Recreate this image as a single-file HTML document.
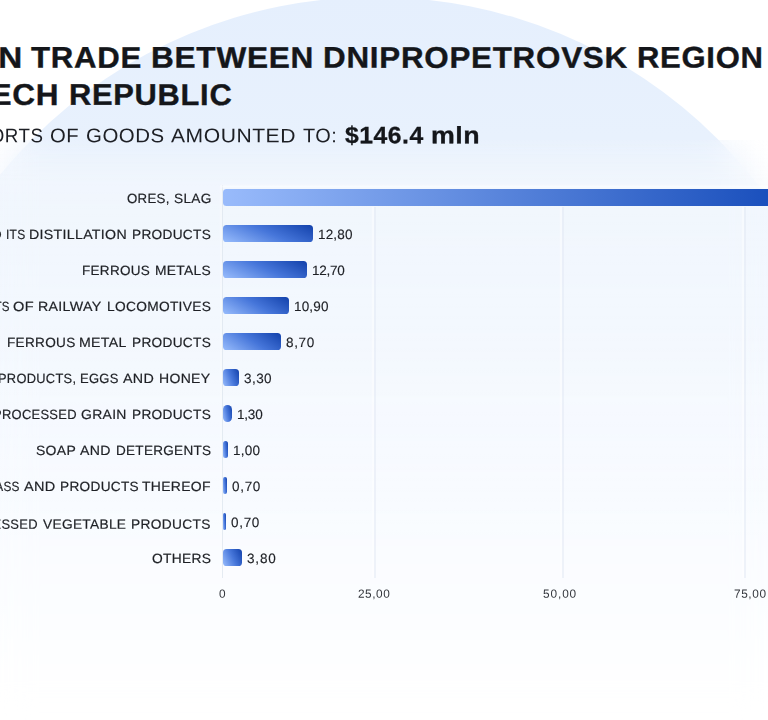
<!DOCTYPE html>
<html lang="en">
<head>
<meta charset="utf-8">
<title>Foreign trade between Dnipropetrovsk region and the Czech Republic</title>
<style>
*{margin:0;padding:0;box-sizing:border-box}
html,body{width:768px;height:720px;overflow:hidden;background:#fff}
body{font-family:"Liberation Sans",sans-serif;color:#15171c;position:relative}
#stage{position:absolute;left:0;top:0;width:768px;height:720px;overflow:hidden;background:#fff}
#circle{position:absolute;left:-108.7px;top:-2.7px;width:967.4px;height:967.4px;border-radius:50%;
  background:linear-gradient(180deg,#e5effd 0px,#e8f1fd 140px,#eef5fe 300px,#f5f9ff 450px,#fbfdff 600px,#ffffff 700px)}
#card{position:absolute;left:-200px;top:140px;width:1168px;height:700px;background:linear-gradient(180deg,rgba(255,255,255,.05) 0px,rgba(255,255,255,.34) 42px,rgba(255,255,255,.30) 120px,rgba(255,255,255,.2) 400px);
  -webkit-backdrop-filter:blur(16px);backdrop-filter:blur(16px)}
.t{position:absolute;white-space:nowrap;line-height:1;transform-origin:0 50%}
.h1{font-weight:700;color:#14161a;-webkit-text-stroke:.35px #14161a}
.sub{color:#1d1f24}
.amt{font-weight:700;color:#14161a;-webkit-text-stroke:.3px #14161a}
.lab{color:#1e2025;-webkit-text-stroke:.2px #1e2025}
.val{color:#1e2025;-webkit-text-stroke:.15px #1e2025}
.ax{color:#33363c}
.bar{position:absolute;height:17px;border-radius:3.5px}
.grid{position:absolute;width:1.5px;background:rgba(226,232,243,.5);top:207px;height:370.5px;box-shadow:-2px 0 1.5px rgba(255,255,255,.55)}
.hline{position:absolute;left:222px;width:560px;top:185.5px;height:1px;background:rgba(255,255,255,.5);box-shadow:0 0 2.5px 1px rgba(255,255,255,.5)}
.axis{position:absolute;width:1px;background:rgba(222,229,238,.75);left:221.8px;top:184.5px;height:393px;box-shadow:-1.5px 0 1.5px rgba(255,255,255,.75)}
</style>
</head>
<body>
<div id="stage">
  <div id="circle"></div>
  <div id="card"></div>

  <div class="axis"></div>
  <div class="hline"></div>
  <div class="grid" style="left:374.3px"></div>
  <div class="grid" style="left:562.2px"></div>
  <div class="grid" style="left:744.3px"></div>
  <div class="bar" style="left:222.8px;top:189.3px;height:17.1px;width:620px;background:linear-gradient(90deg,#99bbfb 0px,#174dbb 560px)"></div>
  <div class="bar" style="left:222.8px;top:225.2px;width:89.95px;height:17.3px;border-radius:3.6px;background:linear-gradient(24.2deg,#98bcfc 0%,#4676da 52%,#1241ab 100%)"></div>
  <div class="bar" style="left:222.8px;top:261.2px;width:83.95px;height:17.3px;border-radius:3.6px;background:linear-gradient(25.7deg,#98bcfc 0%,#4676da 52%,#1241ab 100%)"></div>
  <div class="bar" style="left:222.8px;top:297.2px;width:66.2px;height:17.3px;border-radius:3.6px;background:linear-gradient(31.4deg,#98bcfc 0%,#4676da 52%,#1241ab 100%)"></div>
  <div class="bar" style="left:222.8px;top:333.2px;width:58.2px;height:17.3px;border-radius:3.6px;background:linear-gradient(34.7deg,#98bcfc 0%,#4676da 52%,#1241ab 100%)"></div>
  <div class="bar" style="left:222.8px;top:369.2px;width:16.2px;height:17.3px;border-radius:3.6px;background:linear-gradient(68.1deg,#98bcfc 0%,#4676da 52%,#1241ab 100%)"></div>
  <div class="bar" style="left:222.8px;top:405.2px;width:9.45px;height:17.3px;border-radius:4.7px;background:linear-gradient(76.8deg,#98bcfc 0%,#4676da 52%,#1241ab 100%)"></div>
  <div class="bar" style="left:222.8px;top:441.2px;width:5.2px;height:17.3px;border-radius:2.6px;background:linear-gradient(82.7deg,#98bcfc 0%,#4676da 52%,#1241ab 100%)"></div>
  <div class="bar" style="left:222.8px;top:477.2px;width:3.95px;height:17.3px;border-radius:1.97px;background:linear-gradient(84.4deg,#98bcfc 0%,#4676da 52%,#1241ab 100%)"></div>
  <div class="bar" style="left:222.8px;top:513.2px;width:3.2px;height:17.3px;border-radius:1.6px;background:linear-gradient(85.5deg,#98bcfc 0%,#4676da 52%,#1241ab 100%)"></div>
  <div class="bar" style="left:222.8px;top:549.2px;width:18.95px;height:17.3px;border-radius:3.6px;background:linear-gradient(64.9deg,#98bcfc 0%,#4676da 52%,#1241ab 100%)"></div>
  <div class="t h1" style="left:-134.23px;top:42px;font-size:29.71px;letter-spacing:0.7px;transform:rotate(.03deg) translateY(0.6px) scaleX(1.1200)">FOREIGN</div>
  <div class="t h1" style="left:30.89px;top:42px;font-size:29.71px;letter-spacing:0.7px;transform:rotate(.03deg) translateY(0.6px) scaleX(1.0488)">TRADE</div>
  <div class="t h1" style="left:151.3px;top:42px;font-size:29.71px;letter-spacing:0.7px;transform:rotate(.03deg) translateY(0.6px) scaleX(1.0636)">BETWEEN</div>
  <div class="t h1" style="left:323.37px;top:42px;font-size:29.71px;letter-spacing:0.7px;transform:rotate(.03deg) translateY(0.6px) scaleX(1.0559)">DNIPROPETROVSK</div>
  <div class="t h1" style="left:637.14px;top:42px;font-size:29.71px;letter-spacing:0.7px;transform:rotate(.03deg) translateY(0.6px) scaleX(1.0438)">REGION</div>
  <div class="t h1" style="left:-168.86px;top:79px;font-size:29.78px;letter-spacing:0.7px;transform:rotate(.03deg) translateY(0.84px) scaleX(1.0600)">AND</div>
  <div class="t h1" style="left:-103.46px;top:79px;font-size:29.78px;letter-spacing:0.7px;transform:rotate(.03deg) translateY(0.84px) scaleX(1.0600)">THE</div>
  <div class="t h1" style="left:-53.34px;top:79px;font-size:29.78px;letter-spacing:0.7px;transform:rotate(.03deg) translateY(0.84px) scaleX(1.0600)">CZECH</div>
  <div class="t h1" style="left:68.65px;top:79px;font-size:29.78px;letter-spacing:0.7px;transform:rotate(.03deg) translateY(0.84px) scaleX(1.0357)">REPUBLIC</div>
  <div class="t sub" style="left:-48.8px;top:126px;font-size:19.71px;letter-spacing:0.5px;transform:rotate(.03deg) translateY(0.32px) scaleX(0.9500)">EXPORTS</div>
  <div class="t sub" style="left:49.99px;top:126px;font-size:19.71px;letter-spacing:0.5px;transform:rotate(.03deg) translateY(0.32px) scaleX(1.0274)">OF</div>
  <div class="t sub" style="left:85.68px;top:126px;font-size:19.71px;letter-spacing:0.5px;transform:rotate(.03deg) translateY(0.32px) scaleX(1.0358)">GOODS</div>
  <div class="t sub" style="left:171px;top:126px;font-size:19.71px;letter-spacing:0.5px;transform:rotate(.03deg) translateY(0.32px) scaleX(1.0714)">AMOUNTED</div>
  <div class="t sub" style="left:302.6px;top:126px;font-size:19.71px;letter-spacing:0.5px;transform:rotate(.03deg) translateY(0.32px) scaleX(1.0107)">TO:</div>
  <div class="t amt" style="left:344.55px;top:123px;font-size:23.77px;letter-spacing:0.5px;transform:rotate(.03deg) translateY(0.18px) scaleX(1.0393)">$146.4</div>
  <div class="t amt" style="left:430.59px;top:123px;font-size:23.77px;letter-spacing:0.5px;transform:rotate(.03deg) translateY(0.18px) scaleX(1.1267)">mln</div>
  <div class="t lab" style="left:126.72px;top:191px;font-size:13.41px;letter-spacing:0.3px;transform:rotate(.03deg) translateY(0.95px) scaleX(0.9890)">ORES,</div>
  <div class="t lab" style="left:173.7px;top:191px;font-size:13.41px;letter-spacing:0.3px;transform:rotate(.03deg) translateY(0.95px) scaleX(1.0207)">SLAG</div>
  <div class="t lab" style="left:-179.01px;top:227px;font-size:13.41px;letter-spacing:0.3px;transform:rotate(.03deg) translateY(0.95px) scaleX(1.0500)">MINERAL FUELS, OIL AND</div>
  <div class="t lab" style="left:5.52px;top:227px;font-size:13.41px;letter-spacing:0.3px;transform:rotate(.03deg) translateY(0.95px) scaleX(0.8936)">ITS</div>
  <div class="t lab" style="left:29.37px;top:227px;font-size:13.41px;letter-spacing:0.3px;transform:rotate(.03deg) translateY(0.95px) scaleX(1.0564)">DISTILLATION</div>
  <div class="t lab" style="left:131.91px;top:227px;font-size:13.41px;letter-spacing:0.3px;transform:rotate(.03deg) translateY(0.95px) scaleX(1.0191)">PRODUCTS</div>
  <div class="t lab" style="left:81.92px;top:263px;font-size:13.41px;letter-spacing:0.3px;transform:rotate(.03deg) translateY(0.95px) scaleX(1.0072)">FERROUS</div>
  <div class="t lab" style="left:154.89px;top:263px;font-size:13.41px;letter-spacing:0.3px;transform:rotate(.03deg) translateY(0.95px) scaleX(1.0309)">METALS</div>
  <div class="t lab" style="left:-29.48px;top:299px;font-size:13.41px;letter-spacing:0.3px;transform:rotate(.03deg) translateY(0.95px) scaleX(0.8600)">PARTS</div>
  <div class="t lab" style="left:12.92px;top:299px;font-size:13.41px;letter-spacing:0.3px;transform:rotate(.03deg) translateY(0.95px) scaleX(1.0853)">OF</div>
  <div class="t lab" style="left:37.62px;top:299px;font-size:13.41px;letter-spacing:0.3px;transform:rotate(.03deg) translateY(0.95px) scaleX(1.0582)">RAILWAY</div>
  <div class="t lab" style="left:106.9px;top:299px;font-size:13.41px;letter-spacing:0.3px;transform:rotate(.03deg) translateY(0.95px) scaleX(1.0245)">LOCOMOTIVES</div>
  <div class="t lab" style="left:7.01px;top:335px;font-size:13.41px;letter-spacing:0.3px;transform:rotate(.03deg) translateY(0.95px) scaleX(1.0133)">FERROUS</div>
  <div class="t lab" style="left:79.47px;top:335px;font-size:13.41px;letter-spacing:0.3px;transform:rotate(.03deg) translateY(0.95px) scaleX(1.0557)">METAL</div>
  <div class="t lab" style="left:131.91px;top:335px;font-size:13.41px;letter-spacing:0.3px;transform:rotate(.03deg) translateY(0.95px) scaleX(1.0191)">PRODUCTS</div>
  <div class="t lab" style="left:-49.79px;top:371px;font-size:13.41px;letter-spacing:0.3px;transform:rotate(.03deg) translateY(0.95px) scaleX(1.0500)">DAIRY</div>
  <div class="t lab" style="left:-1.53px;top:371px;font-size:13.41px;letter-spacing:0.3px;transform:rotate(.03deg) translateY(0.95px) scaleX(0.9583)">PRODUCTS,</div>
  <div class="t lab" style="left:80.16px;top:371px;font-size:13.41px;letter-spacing:0.3px;transform:rotate(.03deg) translateY(0.95px) scaleX(0.9666)">EGGS</div>
  <div class="t lab" style="left:123.2px;top:371px;font-size:13.41px;letter-spacing:0.3px;transform:rotate(.03deg) translateY(0.95px) scaleX(1.0657)">AND</div>
  <div class="t lab" style="left:159.38px;top:371px;font-size:13.41px;letter-spacing:0.3px;transform:rotate(.03deg) translateY(0.95px) scaleX(1.0447)">HONEY</div>
  <div class="t lab" style="left:-7px;top:407px;font-size:13.41px;letter-spacing:0.3px;transform:rotate(.03deg) translateY(0.95px) scaleX(0.9650)">PROCESSED</div>
  <div class="t lab" style="left:81.1px;top:407px;font-size:13.41px;letter-spacing:0.3px;transform:rotate(.03deg) translateY(0.95px) scaleX(1.0400)">GRAIN</div>
  <div class="t lab" style="left:131.91px;top:407px;font-size:13.41px;letter-spacing:0.3px;transform:rotate(.03deg) translateY(0.95px) scaleX(1.0191)">PRODUCTS</div>
  <div class="t lab" style="left:35.94px;top:443px;font-size:13.41px;letter-spacing:0.3px;transform:rotate(.03deg) translateY(0.95px) scaleX(1.0409)">SOAP</div>
  <div class="t lab" style="left:80.2px;top:443px;font-size:13.41px;letter-spacing:0.3px;transform:rotate(.03deg) translateY(0.95px) scaleX(1.0516)">AND</div>
  <div class="t lab" style="left:115.67px;top:443px;font-size:13.41px;letter-spacing:0.3px;transform:rotate(.03deg) translateY(0.95px) scaleX(1.0076)">DETERGENTS</div>
  <div class="t lab" style="left:-21.16px;top:479px;font-size:13.41px;letter-spacing:0.3px;transform:rotate(.03deg) translateY(0.95px) scaleX(0.8800)">GLASS</div>
  <div class="t lab" style="left:24.4px;top:479px;font-size:13.41px;letter-spacing:0.3px;transform:rotate(.03deg) translateY(0.95px) scaleX(1.0798)">AND</div>
  <div class="t lab" style="left:59.81px;top:479px;font-size:13.41px;letter-spacing:0.3px;transform:rotate(.03deg) translateY(0.95px) scaleX(1.0177)">PRODUCTS</div>
  <div class="t lab" style="left:142.12px;top:479px;font-size:13.41px;letter-spacing:0.3px;transform:rotate(.03deg) translateY(0.95px) scaleX(1.0404)">THEREOF</div>
  <div class="t lab" style="left:-46.25px;top:517px;font-size:13.41px;letter-spacing:0.3px;transform:rotate(.03deg) translateY(0.65px) scaleX(0.9650)">PROCESSED</div>
  <div class="t lab" style="left:43px;top:517px;font-size:13.41px;letter-spacing:0.3px;transform:rotate(.03deg) translateY(0.65px) scaleX(1.0232)">VEGETABLE</div>
  <div class="t lab" style="left:131.4px;top:517px;font-size:13.41px;letter-spacing:0.3px;transform:rotate(.03deg) translateY(0.65px) scaleX(1.0257)">PRODUCTS</div>
  <div class="t lab" style="left:151.7px;top:551px;font-size:13.41px;letter-spacing:0.3px;transform:rotate(.03deg) translateY(0.95px) scaleX(1.0288)">OTHERS</div>
  <div class="t val" style="left:317.55px;top:227px;font-size:13.52px;letter-spacing:0.15px;transform:rotate(.03deg) translateY(0.9px)">12,80</div>
  <div class="t val" style="left:312.05px;top:263px;font-size:13.52px;letter-spacing:-0.25px;transform:rotate(.03deg) translateY(0.9px)">12,70</div>
  <div class="t val" style="left:293.8px;top:299px;font-size:13.52px;letter-spacing:0.15px;transform:rotate(.03deg) translateY(0.9px)">10,90</div>
  <div class="t val" style="left:286.21px;top:335px;font-size:13.52px;letter-spacing:0.66px;transform:rotate(.03deg) translateY(0.9px)">8,70</div>
  <div class="t val" style="left:244.34px;top:371px;font-size:13.52px;letter-spacing:0.44px;transform:rotate(.03deg) translateY(0.9px)">3,30</div>
  <div class="t val" style="left:237.05px;top:407px;font-size:13.52px;letter-spacing:-0.21px;transform:rotate(.03deg) translateY(0.9px)">1,30</div>
  <div class="t val" style="left:232.55px;top:443px;font-size:13.52px;letter-spacing:0.21px;transform:rotate(.03deg) translateY(0.9px)">1,00</div>
  <div class="t val" style="left:232.34px;top:479px;font-size:13.52px;letter-spacing:0.69px;transform:rotate(.03deg) translateY(0.9px)">0,70</div>
  <div class="t val" style="left:231.34px;top:515px;font-size:13.52px;letter-spacing:0.69px;transform:rotate(.03deg) translateY(0.9px)">0,70</div>
  <div class="t val" style="left:246.84px;top:551px;font-size:13.52px;letter-spacing:0.86px;transform:rotate(.03deg) translateY(0.9px)">3,80</div>
  <div class="t ax" style="left:219.4px;top:588px;font-size:11.83px;transform:rotate(.03deg) translateY(0.79px)">0</div>
  <div class="t ax" style="left:358.41px;top:588px;font-size:11.83px;letter-spacing:0.54px;transform:rotate(.03deg) translateY(0.79px)">25,00</div>
  <div class="t ax" style="left:543.23px;top:588px;font-size:11.83px;letter-spacing:0.9px;transform:rotate(.03deg) translateY(0.79px)">50,00</div>
  <div class="t ax" style="left:733.71px;top:588px;font-size:11.83px;letter-spacing:0.6px;transform:rotate(.03deg) translateY(0.79px)">75,00</div>
</div>
</body>
</html>
